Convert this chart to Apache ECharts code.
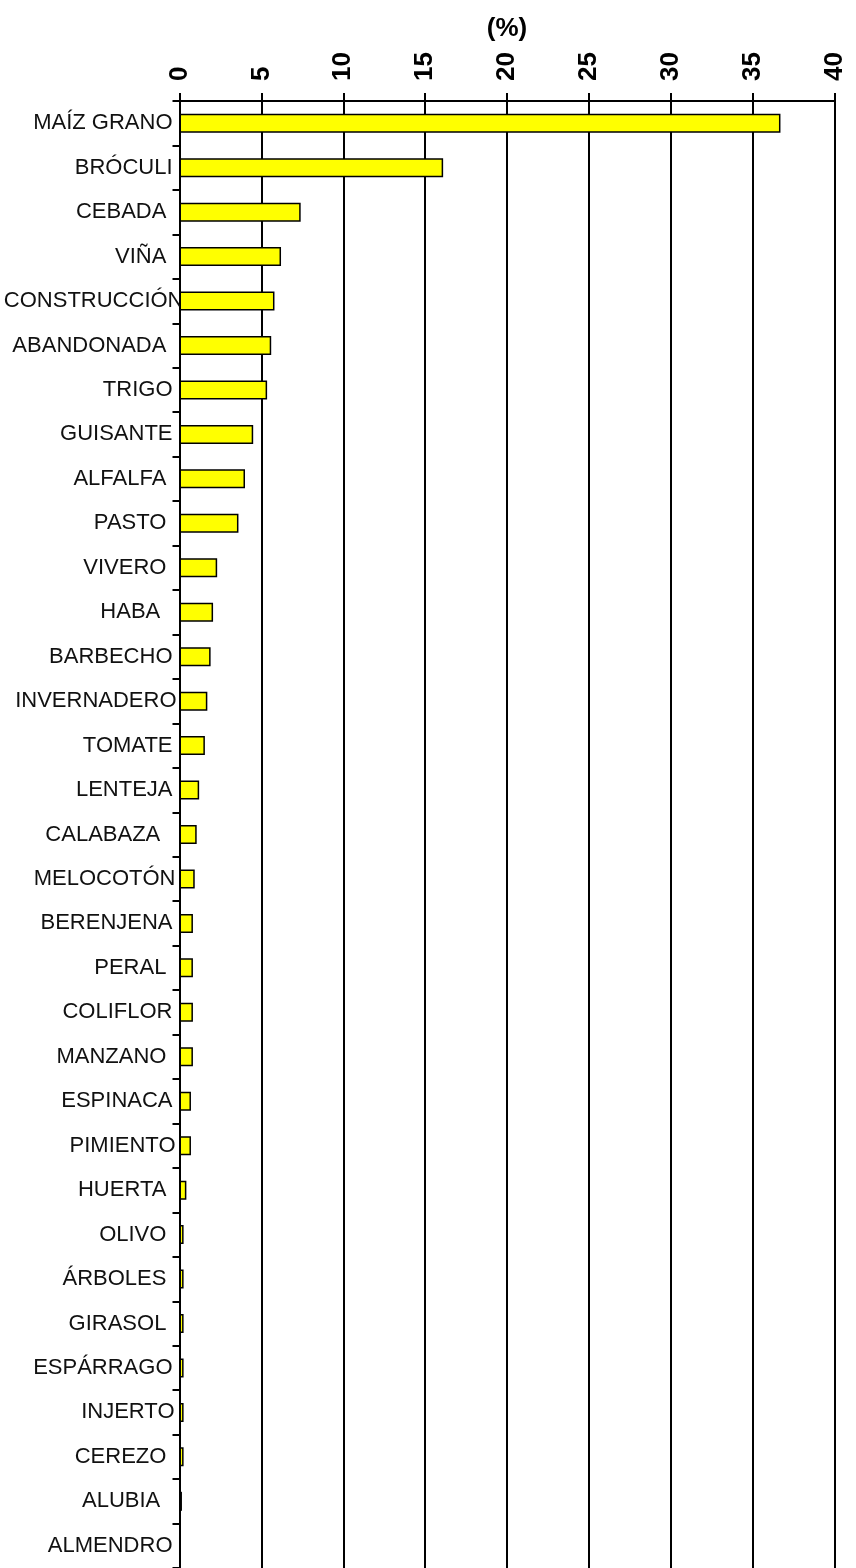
<!DOCTYPE html>
<html>
<head>
<meta charset="utf-8">
<script src="https://cdn.jsdelivr.net/npm/echarts@6/dist/echarts.min.js"></script>
<style>
  html, body { margin: 0; padding: 0; background: #fff; }
  #main { width: 856px; height: 1568px; }
</style>
</head>
<body>
<div id="main"></div>
<script>
    // categorias (los espacios finales vienen del original)
    var categories = ['MAÍZ GRANO', 'BRÓCULI', 'CEBADA ', 'VIÑA ', 'CONSTRUCCIÓN', 'ABANDONADA ', 'TRIGO', 'GUISANTE',
        'ALFALFA ', 'PASTO ', 'VIVERO ', 'HABA  ', 'BARBECHO', 'INVERNADERO', 'TOMATE', 'LENTEJA', 'CALABAZA  ',
        'MELOCOTÓN', 'BERENJENA', 'PERAL ', 'COLIFLOR', 'MANZANO ', 'ESPINACA', 'PIMIENTO', 'HUERTA ', 'OLIVO ',
        'ÁRBOLES ', 'GIRASOL ', 'ESPÁRRAGO', 'INJERTO', 'CEREZO ', 'ALUBIA  ', 'ALMENDRO'];
    var values = [36.7, 16.1, 7.4, 6.2, 5.8, 5.6, 5.35, 4.5,
        4.0, 3.6, 2.3, 2.05, 1.9, 1.7, 1.55, 1.2, 1.05,
        0.93, 0.82, 0.82, 0.82, 0.82, 0.7, 0.7, 0.42, 0.25,
        0.25, 0.25, 0.25, 0.25, 0.25, 0.15, 0.03];
    var xTicks = { min: 0, max: 40, step: 5 };
    var axisName = '(%)';

    // las etiquetas largas se salen hacia la derecha como en el original
    var labelShift = { 'CONSTRUCCIÓN': -11, 'INVERNADERO': -4, 'MELOCOTÓN': -3, 'PIMIENTO': -3, 'INJERTO': -2 };

    var chartDom = document.getElementById('main');
    var myChart = echarts.init(chartDom, null, { renderer: 'canvas' });

    var yData = categories.map(function (c) {
        if (labelShift[c] !== undefined) {
            return { value: c, textStyle: { padding: [0, labelShift[c], 0, 0] } };
        }
        return c;
    });

    var option = {
        animation: false,
        backgroundColor: '#fff',
        grid: {
            left: 179.5,
            right: 21.5,
            top: 101,
            height: 33 * 44.8
        },
        xAxis: {
            type: 'value',
            position: 'top',
            min: xTicks.min,
            max: xTicks.max,
            interval: xTicks.step,
            name: axisName,
            nameLocation: 'middle',
            nameGap: 59,
            nameTextStyle: {
                fontFamily: 'Liberation Sans, Arial',
                fontSize: 26,
                fontWeight: 'bold',
                color: '#000'
            },
            axisLine: { show: true, lineStyle: { color: '#000', width: 2 } },
            axisTick: { show: true, inside: false, length: 8, lineStyle: { color: '#000', width: 2 } },
            axisLabel: {
                rotate: -90,
                margin: 20,
                fontFamily: 'Liberation Sans, Arial',
                fontSize: 26,
                fontWeight: 'bold',
                color: '#000'
            },
            splitLine: { show: true, lineStyle: { color: '#000', width: 2 } }
        },
        yAxis: {
            type: 'category',
            inverse: true,
            data: yData,
            axisLine: { show: true, lineStyle: { color: '#000', width: 2 } },
            axisTick: { show: true, inside: false, length: 7, lineStyle: { color: '#000', width: 2 } },
            axisLabel: {
                margin: 7,
                interval: 0,
                fontFamily: 'Liberation Sans, Arial',
                fontSize: 22,
                color: '#111'
            },
            splitLine: { show: false }
        },
        series: [
            {
                type: 'bar',
                data: values,
                barWidth: 19,
                itemStyle: {
                    color: '#FFFF00',
                    borderColor: '#000',
                    borderWidth: 1.5
                }
            }
        ]
    };

    option && myChart.setOption(option);
</script>
</body>
</html>
